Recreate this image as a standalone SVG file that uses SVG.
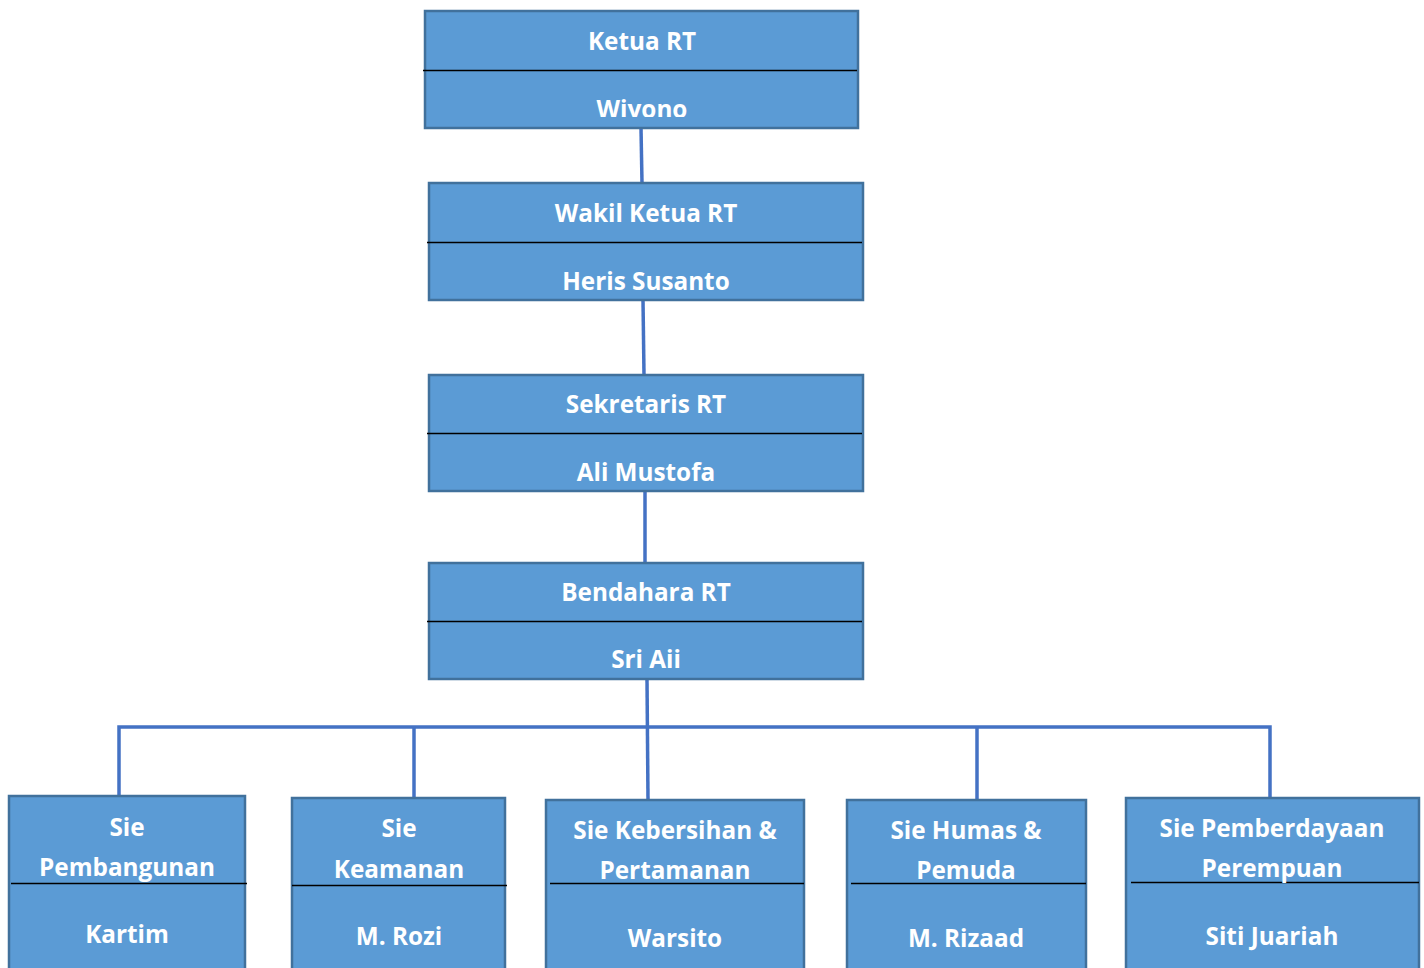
<svg xmlns="http://www.w3.org/2000/svg" width="1424" height="968" viewBox="0 0 1424 968">
<style>
.box{fill:#5B9BD5;stroke:#41719C;stroke-width:2.5}
.div{stroke:#000;stroke-width:1.5}
.t{font-family:"Open Sans","Liberation Sans",sans-serif;font-weight:700;font-size:24.3px;fill:#fff;text-anchor:middle}
.c{fill:none;stroke:#4472C4;stroke-width:3.5}
</style>
<defs>
<clipPath id="c1"><rect x="425" y="11" width="433" height="106"/></clipPath>
<clipPath id="c2"><rect x="429" y="183" width="434" height="108"/></clipPath>
<clipPath id="c3"><rect x="429" y="375" width="434" height="108"/></clipPath>
<clipPath id="c4"><rect x="429" y="563" width="434" height="108"/></clipPath>
</defs>
<rect width="1424" height="968" fill="#fff"/>
<g id="connectors">
<path class="c" d="M641 128 L642 183"/>
<path class="c" d="M643 300 L644 375"/>
<path class="c" d="M645 491 L645 563"/>
<path class="c" d="M647 679 L648 799"/>
<path class="c" d="M119 796 L119 727 L1270 727 L1270 798"/>
<path class="c" d="M414 727 L414 798"/>
<path class="c" d="M977 727 L977 800"/>
</g>
<g id="ketua">
<rect class="box" x="425" y="11" width="433" height="117"/>
<line class="div" x1="423" y1="70.5" x2="857" y2="70.5"/>
<g clip-path="url(#c1)">
<text class="t" x="642" y="50">Ketua RT</text>
<text class="t" x="642" y="118">Wiyono</text>
</g>
</g>
<g id="wakil">
<rect class="box" x="429" y="183" width="434" height="117"/>
<line class="div" x1="427" y1="242.5" x2="862" y2="242.5"/>
<g clip-path="url(#c2)">
<text class="t" x="646" y="222">Wakil Ketua RT</text>
<text class="t" x="646" y="290">Heris Susanto</text>
</g>
</g>
<g id="sekretaris">
<rect class="box" x="429" y="375" width="434" height="116"/>
<line class="div" x1="427" y1="433.5" x2="862" y2="433.5"/>
<g clip-path="url(#c3)">
<text class="t" x="646" y="413">Sekretaris RT</text>
<text class="t" x="646" y="481">Ali Mustofa</text>
</g>
</g>
<g id="bendahara">
<rect class="box" x="429" y="563" width="434" height="116"/>
<line class="div" x1="427" y1="621.5" x2="862" y2="621.5"/>
<g clip-path="url(#c4)">
<text class="t" x="646" y="601">Bendahara RT</text>
<text class="t" x="646" y="668">Sri Aii</text>
</g>
</g>
<g id="pembangunan">
<rect class="box" x="9" y="796" width="236" height="180"/>
<line class="div" x1="11" y1="883.5" x2="247" y2="883.5"/>
<text class="t" x="127" y="836">Sie</text>
<text class="t" x="127" y="876">Pembangunan</text>
<text class="t" x="127" y="943">Kartim</text>
</g>
<g id="keamanan">
<rect class="box" x="292" y="798" width="213" height="180"/>
<line class="div" x1="292" y1="885.5" x2="507" y2="885.5"/>
<text class="t" x="399" y="837">Sie</text>
<text class="t" x="399" y="878">Keamanan</text>
<text class="t" x="399" y="945">M. Rozi</text>
</g>
<g id="kebersihan">
<rect class="box" x="546" y="800" width="258" height="180"/>
<line class="div" x1="550" y1="883.5" x2="804" y2="883.5"/>
<text class="t" x="675" y="839">Sie Kebersihan &amp;</text>
<text class="t" x="675" y="879">Pertamanan</text>
<text class="t" x="675" y="947">Warsito</text>
</g>
<g id="humas">
<rect class="box" x="847" y="800" width="239" height="180"/>
<line class="div" x1="851" y1="883.5" x2="1086" y2="883.5"/>
<text class="t" x="966" y="839">Sie Humas &amp;</text>
<text class="t" x="966" y="879">Pemuda</text>
<text class="t" x="966" y="947">M. Rizaad</text>
</g>
<g id="perempuan">
<rect class="box" x="1126" y="798" width="293" height="180"/>
<line class="div" x1="1131" y1="882.5" x2="1419" y2="882.5"/>
<text class="t" x="1272" y="837">Sie Pemberdayaan</text>
<text class="t" x="1272" y="877">Perempuan</text>
<text class="t" x="1272" y="945">Siti Juariah</text>
</g>
</svg>
